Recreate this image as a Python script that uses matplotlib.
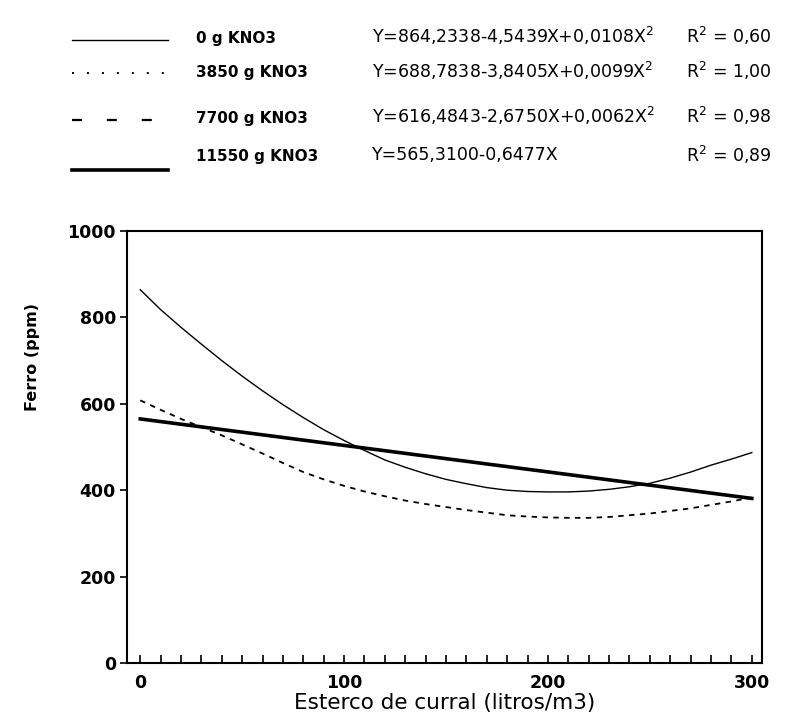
import matplotlib
matplotlib.use("Agg")
import matplotlib.pyplot as plt
from matplotlib.lines import Line2D
import numpy as np

plt.rcParams['font.family'] = ['DejaVu Sans']

# ---- data ----
x_vals = [0, 10, 20, 30, 40, 50, 60, 70, 80, 90, 100, 110, 120, 130, 140, 150,
          160, 170, 180, 190, 200, 210, 220, 230, 240, 250, 260, 270, 280, 290, 300]
y_0g = [864, 818, 777, 738, 700, 664, 630, 598, 568, 540, 515, 492, 470, 453, 438, 425,
        415, 406, 400, 397, 396, 396, 398, 402, 408, 416, 428, 442, 458, 472, 487]
y_7700g = [608, 586, 565, 546, 527, 506, 485, 463, 442, 425, 410, 397, 386, 376, 368, 361,
           354, 348, 342, 339, 337, 336, 336, 338, 342, 346, 352, 358, 366, 374, 383]
x_11550 = [0, 300]
y_11550 = [565, 381]

series_labels = ["0 g KNO3", "3850 g KNO3", "7700 g KNO3", "11550 g KNO3"]
equations = ["Y=864,2338-4,5439X+0,0108X$^2$",
             "Y=688,7838-3,8405X+0,0099X$^2$",
             "Y=616,4843-2,6750X+0,0062X$^2$",
             "Y=565,3100-0,6477X"]
r2_values = ["0,60", "1,00", "0,98", "0,89"]

x_ticks = [0, 100, 200, 300]
y_ticks = [0, 200, 400, 600, 800, 1000]

W, H = 793, 723
fig = plt.figure(figsize=(W / 100, H / 100), dpi=100)
ax = fig.add_axes([127 / W, 1 - 663 / H, (762 - 127) / W, (663 - 231) / H])

ax.plot(x_vals, y_0g, color='black', lw=1.0)
ax.plot(x_vals, y_7700g, color='black', lw=1.3, linestyle=(0, (3, 3)))
ax.plot(x_11550, y_11550, color='black', lw=2.6)

ax.set_xlim(-6.5, 305)
ax.set_ylim(0, 1000)
ax.set_xticks(x_ticks)
ax.set_xticks(np.arange(0, 301, 10), minor=True)
ax.set_yticks(y_ticks)
ax.tick_params(axis='x', which='both', direction='in', length=6, width=1.2, pad=8)
ax.tick_params(axis='y', which='major', direction='out', length=5, width=1.2, pad=3)
for lab in ax.get_xticklabels() + ax.get_yticklabels():
    lab.set_fontweight('bold')
    lab.set_fontsize(12.5)
for sp in ax.spines.values():
    sp.set_linewidth(1.5)

ax.set_ylabel("Ferro (ppm)", fontsize=11.5, fontweight='bold')
ax.yaxis.set_label_coords(-0.137, 0.708)
ax.set_xlabel("Esterco de curral (litros/m3)", fontsize=15.5, labelpad=1)

# ---- custom legend above the plot ----
def fx(px):
    return px / W

def fy(py):
    return 1 - py / H

styles = [dict(lw=1.0, ls='-'),
          dict(lw=1.4, ls=(0, (1, 6.7))),
          dict(lw=1.6, ls=(0, (4.5, 11.2))),
          dict(lw=2.6, ls='-')]
line_rows = [40, 73, 120, 170]
text_rows = [38, 73, 118, 157]
for i in range(4):
    fig.add_artist(Line2D([fx(72), fx(168)], [fy(line_rows[i])] * 2,
                          transform=fig.transFigure, color='black', **styles[i]))
    fig.text(fx(196), fy(text_rows[i]), series_labels[i], fontsize=11,
             fontweight='bold', va='center', ha='left')
    fig.text(fx(372), fy(text_rows[i] - 2), equations[i], fontsize=12.5,
             va='center', ha='left')
    fig.text(fx(686), fy(text_rows[i] - 2), "R$^2$ = " + r2_values[i], fontsize=12.5,
             va='center', ha='left')

fig.savefig("out.png", dpi=100)
